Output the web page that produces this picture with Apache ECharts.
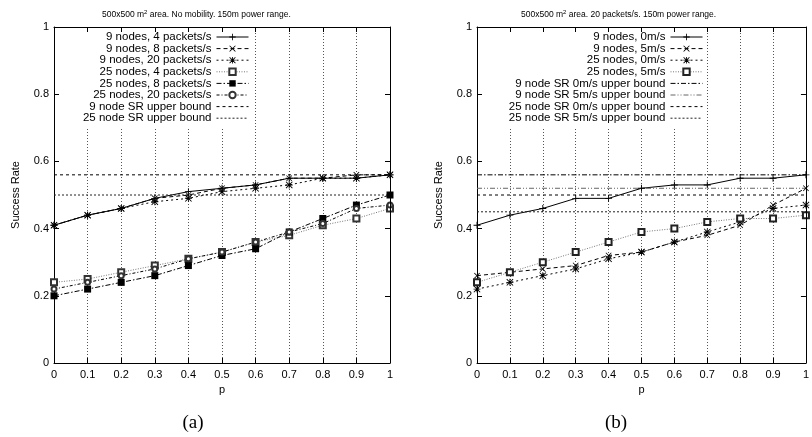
<!DOCTYPE html>
<html>
<head>
<meta charset="utf-8">
<script src="https://cdn.jsdelivr.net/npm/echarts@6/dist/echarts.min.js"></script>
<style>html,body{margin:0;padding:0;background:#fff;}#c{width:812px;height:437px;}</style>
</head>
<body>
<div id="c"></div>
<script>
// ---------- DATA ----------
const pValues = [0, 0.1, 0.2, 0.3, 0.4, 0.5, 0.6, 0.7, 0.8, 0.9, 1];
const xTicks = ['0','0.1','0.2','0.3','0.4','0.5','0.6','0.7','0.8','0.9','1'];

// Panel (a): No mobility
const namesA = ['9 nodes, 4 packets/s','9 nodes, 8 packets/s','9 nodes, 20 packets/s',
  '25 nodes, 4 packets/s','25 nodes, 8 packets/s','25 nodes, 20 packets/s',
  '9 node SR upper bound','25 node SR upper bound'];
const a_9n_4p  = [0.41,0.44,0.46,0.49,0.51,0.52,0.53,0.55,0.55,0.55,0.56];
const a_9n_8p  = [0.41,0.44,0.46,0.49,0.50,0.52,0.53,0.55,0.55,0.56,0.56];
const a_9n_20p = [0.41,0.44,0.46,0.48,0.49,0.51,0.52,0.53,0.55,0.55,0.56];
const a_25n_4p  = [0.24,0.25,0.27,0.29,0.31,0.33,0.36,0.38,0.41,0.43,0.46];
const a_25n_8p  = [0.20,0.22,0.24,0.26,0.29,0.32,0.34,0.39,0.43,0.47,0.50];
const a_25n_20p = [0.22,0.24,0.26,0.28,0.31,0.33,0.36,0.39,0.415,0.46,0.47];
const a_bound9 = 0.56;
const a_bound25 = 0.50;

// Panel (b): 20 packets/s
const namesB = ['9 nodes, 0m/s','9 nodes, 5m/s','25 nodes, 0m/s','25 nodes, 5m/s',
  '9 node SR 0m/s upper bound','9 node SR 5m/s upper bound',
  '25 node SR 0m/s upper bound','25 node SR 5m/s upper bound'];
const b_9n_0 = [0.41,0.44,0.46,0.49,0.49,0.52,0.53,0.53,0.55,0.55,0.56];
const b_9n_5 = [0.26,0.27,0.28,0.29,0.32,0.33,0.36,0.38,0.41,0.47,0.52];
const b_25n_0 = [0.22,0.24,0.26,0.28,0.31,0.33,0.36,0.39,0.42,0.46,0.47];
const b_25n_5 = [0.24,0.27,0.30,0.33,0.36,0.39,0.40,0.42,0.43,0.43,0.44];
const b_bound9_0 = 0.56;
const b_bound9_5 = 0.52;
const b_bound25_0 = 0.50;
const b_bound25_5 = 0.45;

const titleA = '500x500 m{s|2} area. No mobility. 150m power range.';
const titleB = '500x500 m{s|2} area. 20 packets/s. 150m power range.';

// ---------- STYLE ----------
const FONT = '"Liberation Sans", Arial, Helvetica, sans-serif';
const SYM_PLUS = 'path://M0,4.35H10V5.65H0Z M4.35,0H5.65V10H4.35Z';
const SYM_X = 'path://M0.9,0L5,4.1L9.1,0L10,0.9L5.9,5L10,9.1L9.1,10L5,5.9L0.9,10L0,9.1L4.1,5L0,0.9Z';
const SYM_STAR = 'path://M0.9,0L5,4.1L9.1,0L10,0.9L5.9,5L10,9.1L9.1,10L5,5.9L0.9,10L0,9.1L4.1,5L0,0.9Z M0,4.35H10V5.65H0Z M4.35,0H5.65V10H4.35Z';

function pts(vals){ return pValues.map((p,i)=>[p, vals[i]]); }
function bound(v){ return [[0, v],[1, v]]; }

function ser(name, data, gi, symbol, size, lineType, lineColor, symColor){
  const empty = typeof symbol === 'string' && symbol.indexOf('empty') === 0;
  return {
    type:'line', name, data, xAxisIndex: gi*2, yAxisIndex: gi*2,
    symbol, symbolSize: size, showSymbol: symbol !== 'none',
    lineStyle:{ color: lineColor, width: 1, type: lineType },
    itemStyle:{ color: symColor, borderColor: symColor, borderWidth: empty ? 1 : 0 },
    emphasis:{ disabled:true }, animation:false, z: 3
  };
}

function axesFor(gi){
  const xBottom = {
    type:'value', gridIndex: gi, position:'bottom', min:0, max:1, interval:0.1,
    axisLine:{ show:true, onZero:false, lineStyle:{ color:'#000', width:1 } },
    axisTick:{ show:true, inside:true, length:5, lineStyle:{ color:'#000' } },
    axisLabel:{ show:true, color:'#000', fontSize:11, fontFamily:FONT, margin:6,
      formatter:(v)=>{ const i = Math.round(v*10); return xTicks[i] !== undefined ? xTicks[i] : ''; } },
    splitLine:{ show:true, lineStyle:{ color:'#555', width:1, type:[1,2] } },
    name:'p', nameLocation:'middle', nameGap:21,
    nameTextStyle:{ color:'#000', fontSize:11, fontFamily:FONT }
  };
  const xTop = {
    type:'value', gridIndex: gi, position:'top', min:0, max:1, interval:0.1, z: 10,
    axisLine:{ show:true, onZero:false, lineStyle:{ color:'#000', width:1 } },
    axisTick:{ show:true, inside:true, length:5, lineStyle:{ color:'#000' } },
    axisLabel:{ show:false }, splitLine:{ show:false }
  };
  const yLeft = {
    type:'value', gridIndex: gi, position:'left', min:0, max:1, interval:0.2,
    axisLine:{ show:true, onZero:false, lineStyle:{ color:'#000', width:1 } },
    axisTick:{ show:true, inside:true, length:5, lineStyle:{ color:'#000' } },
    axisLabel:{ show:true, color:'#000', fontSize:11, fontFamily:FONT, margin:5 },
    splitLine:{ show:false },
    name:'Success Rate', nameLocation:'middle', nameGap:33, nameRotate:90,
    nameTextStyle:{ color:'#000', fontSize:11, fontFamily:FONT }
  };
  const yRight = {
    type:'value', gridIndex: gi, position:'right', min:0, max:1, interval:0.2, z: 10,
    axisLine:{ show:true, onZero:false, lineStyle:{ color:'#000', width:1 } },
    axisTick:{ show:true, inside:true, length:5, lineStyle:{ color:'#000' } },
    axisLabel:{ show:false }, splitLine:{ show:false }
  };
  return { x:[xBottom, xTop], y:[yLeft, yRight] };
}

const ax0 = axesFor(0), ax1 = axesFor(1);

const DASH = [4,3], SHORT = [2,3], DOT = [1,1.5], DASHDOT = [5,2,1.5,2], DASHDOT2 = [3,2,1,2];

const series = [
  ser(namesA[0], pts(a_9n_4p), 0, SYM_PLUS, 7, 'solid', '#000', '#000'),
  ser(namesA[1], pts(a_9n_8p), 0, SYM_X, 6, DASH, '#000', '#000'),
  ser(namesA[2], pts(a_9n_20p), 0, SYM_STAR, 7, SHORT, '#000', '#000'),
  ser(namesA[3], pts(a_25n_4p), 0, 'emptyRect', 6, DOT, '#777', '#333'),
  ser(namesA[4], pts(a_25n_8p), 0, 'rect', 7, DASHDOT, '#000', '#000'),
  ser(namesA[5], pts(a_25n_20p), 0, 'emptyCircle', 5, DASHDOT2, '#000', '#333'),
  ser(namesA[6], bound(a_bound9), 0, 'none', 0, [3,3], '#000', '#000'),
  ser(namesA[7], bound(a_bound25), 0, 'none', 0, [2,2], '#222', '#222'),

  ser(namesB[0], pts(b_9n_0), 1, SYM_PLUS, 7, 'solid', '#000', '#000'),
  ser(namesB[1], pts(b_9n_5), 1, SYM_X, 6, DASH, '#000', '#000'),
  ser(namesB[2], pts(b_25n_0), 1, SYM_STAR, 7, SHORT, '#000', '#000'),
  ser(namesB[3], pts(b_25n_5), 1, 'emptyRect', 6, DOT, '#777', '#222'),
  ser(namesB[4], bound(b_bound9_0), 1, 'none', 0, DASHDOT, '#000', '#000'),
  ser(namesB[5], bound(b_bound9_5), 1, 'none', 0, [5,2,1,2,1,2], '#666', '#666'),
  ser(namesB[6], bound(b_bound25_0), 1, 'none', 0, [3,3], '#000', '#000'),
  ser(namesB[7], bound(b_bound25_5), 1, 'none', 0, [2,2], '#222', '#222')
];

function legend(names, nMarked, right){
  return {
    data: names.map((n, i) => i < nMarked ? { name: n } :
      { name: n, itemStyle: { opacity: 0, color: 'rgba(0,0,0,0)', borderColor: 'rgba(0,0,0,0)' } }),
    orient:'vertical', align:'right', right, top:28,
    itemWidth:32, itemHeight:8, itemGap:-0.4, padding:[3,4,4,22],
    backgroundColor:'#fff', selectedMode:false, z:4,
    lineStyle:{ width:1 },
    textStyle:{ color:'#000', fontSize:11.5, fontFamily:FONT }
  };
}

const chart = echarts.init(document.getElementById('c'), null, { renderer:'canvas' });
chart.setOption({
  backgroundColor:'#fff',
  animation:false,
  title:[
    { text: titleA, left: 97, top: 4,
      textStyle:{ color:'#000', fontSize:8.5, fontWeight:'normal', fontFamily:FONT,
        rich:{ s:{ fontSize:6, padding:[0,0,5,0], fontFamily:FONT, color:'#000' } } } },
    { text: titleB, left: 516, top: 4,
      textStyle:{ color:'#000', fontSize:8.5, fontWeight:'normal', fontFamily:FONT,
        rich:{ s:{ fontSize:6, padding:[0,0,5,0], fontFamily:FONT, color:'#000' } } } }
  ],
  grid:[
    { left:54, top:27, width:336, height:336, containLabel:false },
    { left:477, top:27, width:336, height:336, containLabel:false }
  ],
  xAxis:[ax0.x[0], ax0.x[1], ax1.x[0], ax1.x[1]],
  yAxis:[ax0.y[0], ax0.y[1], ax1.y[0], ax1.y[1]],
  legend:[ legend(namesA, 6, 559), legend(namesB, 4, 105) ],
  series,
  graphic:[
    { type:'text', x:193, y:423, style:{ text:'(a)', fontSize:19, fontFamily:'"Liberation Serif", "Times New Roman", serif', fill:'#000', align:'center', verticalAlign:'middle' } },
    { type:'text', x:616, y:423, style:{ text:'(b)', fontSize:19, fontFamily:'"Liberation Serif", "Times New Roman", serif', fill:'#000', align:'center', verticalAlign:'middle' } }
  ]
});
</script>
</body>
</html>
